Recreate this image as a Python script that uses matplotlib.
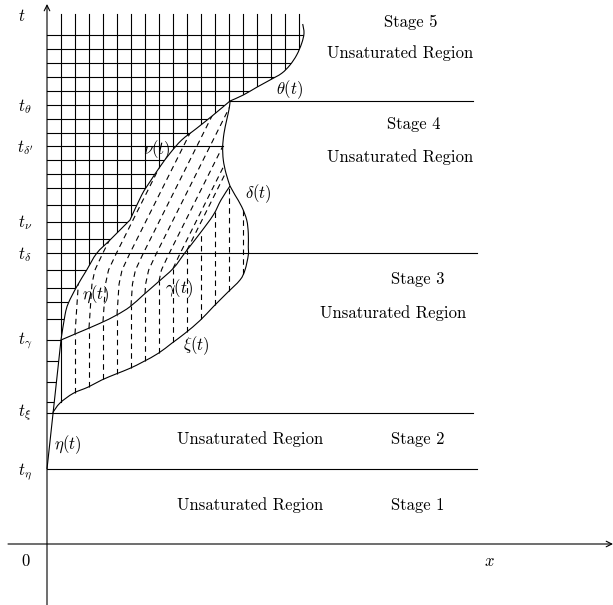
import numpy as np
import matplotlib
matplotlib.use('Agg')
import matplotlib.pyplot as plt
from matplotlib.path import Path
from matplotlib.patches import PathPatch

plt.rcParams['mathtext.fontset'] = 'cm'
plt.rcParams['font.family'] = 'serif'
plt.rcParams['font.serif'] = ['cmr10']
plt.rcParams['axes.unicode_minus'] = False
plt.rcParams['lines.scale_dashes'] = False

# ── Free boundaries, (x, t) ────────────────────────────────────────────────────
eta_x = [0, 14]
eta_t = [75, 204]

nu_lo_x = [14, 18, 21.3, 29.7, 39.7, 49.7, 63, 83]
nu_lo_t = [204, 229, 240.7, 257.3, 274, 290.7, 304, 324]
nu_hi_x = [83, 94.7, 103, 113, 123, 134.7, 149.7, 166.3, 183]
nu_hi_t = [324, 349, 362.3, 377.3, 390.7, 404, 415.7, 429, 443]

theta_x = [183, 196.3, 209.7, 223, 234.7, 243, 249.7, 254.7, 257, 255.7]
theta_t = [443, 449, 456.7, 464, 470.7, 479, 489, 500.7, 510.7, 520]

xi_x = [5.7, 13, 26.3, 41.3, 54.7, 69.7, 83, 96.3, 111.3, 124.7, 138, 153, 166.3, 179.7, 193, 198, 201.3]
xi_t = [131.3, 141, 150.7, 157, 164, 170.3, 175.7, 182.3, 190.7, 200.7, 210.7, 223.5, 237.3, 250.7, 264, 274, 289]

delta_lo_x = [201.3, 201.3, 199.7, 194.7, 188, 183]
delta_lo_t = [297.3, 310.7, 324, 337.3, 349, 358]
delta_hi_x = [183, 179, 176.3, 175.7, 177, 179.7, 182.3, 183]
delta_hi_t = [358, 370.7, 384, 397.3, 410.7, 424, 436, 443]

gamma_x = [14, 29.7, 53, 69.7, 83, 96.3, 109.7, 126.3, 138, 153, 166.3, 174, 183]
gamma_t = [204, 210.7, 220.7, 229, 237.3, 249, 260.7, 275.7, 291.3, 310.7, 329, 344, 358]

# ── Levels ─────────────────────────────────────────────────────────────────────
t_eta, t_xi, t_gamma, t_delta = 75, 131.3, 204, 291
t_nu, t_deltap, t_theta = 322, 398.3, 443

grid_t = [509, 495, 481, 467, 453, 439, 425, 411, 384, 370, 356, 339, 322,
          305, 274, 256.5, 242, 225, 204, 183, 162, 142]
grid_x = [14 * k for k in range(1, 19)]

dash_x = [14 * k for k in range(2, 15)]
slant_x0 = [14 * k for k in range(2, 11)]
bend_t = [200, 260, 274, 290, 470]
bend_dx = [0, 4, 7, 14.5, 104.5]

LW = 0.8
DASH = (0, (4, 3))


def smooth(xs, ts):
    p = np.column_stack([xs, ts]).astype(float)
    ext = np.vstack([p[0], p, p[-1]])
    verts, codes = [p[0]], [Path.MOVETO]
    for i in range(len(p) - 1):
        a, b, c, d = ext[i], ext[i + 1], ext[i + 2], ext[i + 3]
        verts += [b + (c - a) / 6, c - (d - b) / 6, c]
        codes += [Path.CURVE4] * 3
    return verts, codes


def join(*pieces):
    verts, codes = [], []
    for k, (v, c) in enumerate(pieces):
        verts += v if k == 0 else v[1:]
        codes += c if k == 0 else c[1:]
    return verts, codes


def draw(verts, codes, **kw):
    ax.add_patch(PathPatch(Path(verts, codes), fill=False, lw=LW, ec='k', **kw))


fig = plt.figure(figsize=(6.13, 6.05), dpi=100)
ax = fig.add_axes([0, 0, 1, 1])
ax.set_xlim(-47, 566)
ax.set_ylim(-61, 544)
ax.axis('off')

# axes
ax.annotate('', xy=(566, 0), xytext=(-39, 0),
            arrowprops=dict(arrowstyle='->', lw=LW, color='k', shrinkA=0, shrinkB=0))
ax.annotate('', xy=(0, 540), xytext=(0, -61),
            arrowprops=dict(arrowstyle='->', lw=LW, color='k', shrinkA=0, shrinkB=0))

eta_p = smooth(eta_x, eta_t)
nu_lo = smooth(nu_lo_x, nu_lo_t)
nu_hi = smooth(nu_hi_x, nu_hi_t)
theta_p = smooth(theta_x, theta_t)
left_v, left_c = join(eta_p, nu_lo, nu_hi, theta_p)

# grid region (saturated)
gv = left_v + [(theta_x[-1], 560), (-10, 560), (-10, eta_t[0]), (0, 0)]
gc = left_c + [Path.LINETO] * 3 + [Path.CLOSEPOLY]
grid_clip = PathPatch(Path(gv, gc), facecolor='none', edgecolor='none')
ax.add_patch(grid_clip)
for t in grid_t:
    ln, = ax.plot([0, 320], [t, t], color='k', lw=LW)
    ln.set_clip_path(grid_clip)
for x in grid_x:
    ln, = ax.plot([x, x], [0, 530], color='k', lw=LW)
    ln.set_clip_path(grid_clip)
ax.plot([14, 14], [np.interp(14, xi_x, xi_t), t_gamma], color='k', lw=LW)

# level lines
ax.plot([0, 430], [t_eta, t_eta], color='k', lw=LW)
ax.plot([0, 426], [t_xi, t_xi], color='k', lw=LW)
ax.plot([0, 430], [t_delta, t_delta], color='k', lw=LW)
ax.plot([0, 175.7], [t_deltap, t_deltap], color='k', lw=LW)
ax.plot([183, 426], [t_theta, t_theta], color='k', lw=LW)

# boundaries
draw(left_v, left_c)
draw(*smooth(xi_x + delta_lo_x, xi_t + delta_lo_t))
draw(*smooth(delta_hi_x, delta_hi_t))
draw(*smooth(gamma_x, gamma_t))

# vertical dashed lines between xi and gamma / delta
cap_x = gamma_x + delta_lo_x[::-1][1:]
cap_t = gamma_t + delta_lo_t[::-1][1:]
for x in dash_x:
    ax.plot([x, x], [np.interp(x, xi_x, xi_t), np.interp(x, cap_x, cap_t)],
            color='k', lw=LW, linestyle=DASH)

# slanted dashed lines inside the lens between gamma and nu
lv, lc = join(nu_lo, nu_hi, smooth(delta_hi_x[::-1], delta_hi_t[::-1]),
              smooth(gamma_x[::-1], gamma_t[::-1]))
lens = PathPatch(Path(lv + [(0, 0)], lc + [Path.CLOSEPOLY]),
                 facecolor='none', edgecolor='none')
ax.add_patch(lens)
for x0 in slant_x0:
    t0 = np.interp(x0, gamma_x, gamma_t)
    ts = np.linspace(t0, 470, 120)
    xs = x0 + np.interp(ts, bend_t, bend_dx) - np.interp(t0, bend_t, bend_dx)
    ln, = ax.plot(xs, ts, color='k', lw=LW, linestyle=DASH)
    ln.set_clip_path(lens)

FS = 12
# axis labels
ax.text(-25.3, 528, r'$t$', fontsize=FS, ha='center', va='center')
ax.text(-21.6, -17.7, '0', fontsize=FS, ha='center', va='center')
ax.text(442.3, -17.7, r'$x$', fontsize=FS, ha='center', va='center')
for lab, t in [(r'$t_\theta$', 437), (r"$t_{\delta'}$", 396.5), (r'$t_\nu$', 321),
               (r'$t_\delta$', 289), (r'$t_\gamma$', 203), (r'$t_\xi$', 131.5),
               (r'$t_\eta$', 72)]:
    ax.text(-22, t, lab, fontsize=FS, ha='center', va='center')

# curve labels
for lab, x, t in [(r'$\theta(t)$', 243, 454), (r'$\nu(t)$', 110, 394),
                  (r'$\delta(t)$', 211, 350.3), (r'$\gamma(t)$', 132, 255),
                  (r'$\eta(t)$', 48.5, 249), (r'$\xi(t)$', 149, 198),
                  (r'$\eta(t)$', 20.5, 99)]:
    ax.text(x, t, lab, fontsize=FS, ha='center', va='center')

# stage texts
for lab, x, t in [('Stage 5', 363.5, 521.3), ('Unsaturated Region', 352.7, 490.7),
                  ('Stage 4', 367, 420), ('Unsaturated Region', 352.7, 387.3),
                  ('Stage 3', 370.5, 264.7), ('Unsaturated Region', 346, 230.7),
                  ('Unsaturated Region', 203.5, 104.7), ('Stage 2', 371, 105),
                  ('Unsaturated Region', 203.5, 39), ('Stage 1', 371, 39)]:
    ax.text(x, t, lab, fontsize=FS, ha='center', va='center')

fig.savefig('out.png', dpi=100)
